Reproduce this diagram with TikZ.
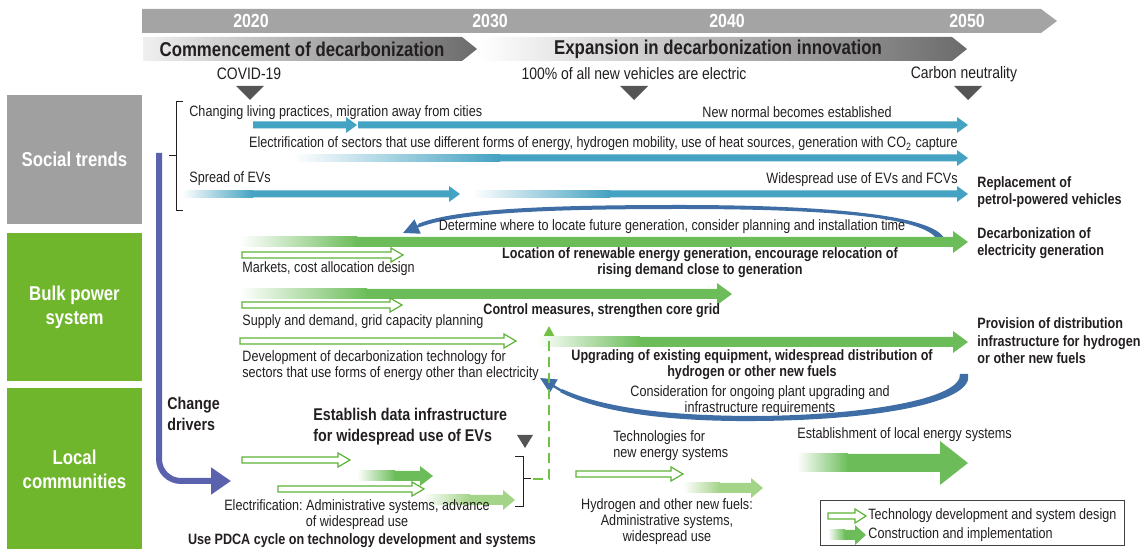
\documentclass[tikz,border=0pt]{standalone}
\usepackage{fontspec}
\setmainfont{Liberation Sans}[FakeStretch=0.84]
\usetikzlibrary{arrows.meta}
\frenchspacing

\definecolor{txt}{HTML}{231F20}
\definecolor{bargray}{HTML}{A4A4A4}
\definecolor{boxgray}{HTML}{A0A0A0}
\definecolor{boxgreen}{HTML}{70B62C}
\definecolor{trendblue}{HTML}{44A2C2}
\definecolor{loopblue}{HTML}{3E6EA5}
\definecolor{driverblue}{HTML}{5A62AE}
\definecolor{buildgreen}{HTML}{6CBD5A}
\definecolor{lightgreen}{HTML}{A3D488}
\definecolor{outlinegreen}{HTML}{5DB337}
\definecolor{dashgreen}{HTML}{72C045}
\definecolor{markgray}{HTML}{555555}
\definecolor{phasedark}{HTML}{6B6B6B}

\newcommand{\setfs}[2]{\fontsize{#1}{#2}\selectfont}

% gradient arrow: start x, end of fade, head base, tip, y, shaft half, head half, colour
\newcommand{\fadearrow}[8]{%
  \shade[left color=white, right color=#8] (#1,#5-#6) rectangle (#2,#5+#6);
  \fill[#8] (#2-0.5,#5-#6) -- (#3,#5-#6) -- (#3,#5-#7) -- (#4,#5)
    -- (#3,#5+#7) -- (#3,#5+#6) -- (#2-0.5,#5+#6) -- cycle;}
% solid arrow: start x, head base, tip, y, shaft half, head half, colour
\newcommand{\flatarrow}[7]{%
  \fill[#7] (#1,#4-#5) -- (#2,#4-#5) -- (#2,#4-#6) -- (#3,#4)
    -- (#2,#4+#6) -- (#2,#4+#5) -- (#1,#4+#5) -- cycle;}
% outlined arrow: start x, head base, tip, y, shaft half, head half
\newcommand{\designarrow}[6]{%
  \draw[designline] (#1,#4-#5) -- (#2,#4-#5) -- (#2,#4-#6) -- (#3,#4)
    -- (#2,#4+#6) -- (#2,#4+#5) -- (#1,#4+#5) -- cycle;}
% down-pointing marker: centre x, top y, bottom y, half width
\newcommand{\milestone}[4]{%
  \fill[markgray] (#1-#4,#2) -- (#1+#4,#2) -- (#1,#3) -- cycle;}

\begin{document}
\begin{tikzpicture}[x=0.5pt,y=-0.5pt,
  lbl/.style={font=\setfs{7.5}{8}, text=txt, inner sep=0pt},
  mlbl/.style={font=\setfs{8.3}{9}, text=txt, inner sep=0pt},
  blbl/.style={font=\setfs{7.5}{8}\bfseries, text=txt, inner sep=0pt},
  sidebold/.style={font=\setfs{7.5}{8.7}\bfseries, text=txt, inner sep=0pt, align=left, anchor=west},
  bigbold/.style={font=\setfs{8.5}{10.5}\bfseries, text=txt, inner sep=0pt, align=left, anchor=west},
  sectbox/.style={font=\setfs{10}{12}\bfseries, text=white, align=center,
    minimum width=67.5pt, inner sep=0pt},
  yearlbl/.style={font=\setfs{9.5}{10}\bfseries, text=white, inner sep=0pt},
  phaselbl/.style={font=\setfs{10}{11}\bfseries, text=txt, inner sep=0pt},
  designline/.style={draw=outlinegreen, line width=0.6pt, fill=white},
  loopline/.style={loopblue, line width=1.2pt, -{Triangle[length=8pt,width=7.5pt]}},
  bracketline/.style={draw=txt, line width=0.5pt},
]
\useasboundingbox (0,0) rectangle (1140,549);

% ---------- time line ----------
\fill[bargray] (142,9) -- (1041,9) -- (1057,21) -- (1041,33) -- (142,33) -- cycle;
\node[yearlbl] (y2020) at (251,21) {2020};
\node[yearlbl] (y2030) at (490,21) {2030};
\node[yearlbl] (y2040) at (727,21) {2040};
\node[yearlbl] (y2050) at (967,21) {2050};

\shade[left color=black!6, right color=phasedark]
  (143,37) -- (462,37) -- (477,49) -- (462,61) -- (143,61) -- cycle;
\shade[left color=white, right color=phasedark]
  (478,37) -- (952,37) -- (967,49) -- (952,61) -- (478,61) -- cycle;
\node[phaselbl] (phase1) at (302,49) {Commencement of decarbonization};
\node[phaselbl] (phase2) at (718,49) {Expansion in decarbonization innovation};

\node[mlbl] (covid) at (249,74) {COVID-19};
\node[mlbl] (allev) at (634,74) {100\% of all new vehicles are electric};
\node[mlbl] (neutral) at (964,74) {Carbon neutrality};
\milestone{250}{86}{100}{14}
\milestone{634}{86}{100}{14}
\milestone{968}{86}{100}{14}

% ---------- section boxes ----------
\node[sectbox, fill=boxgray, minimum height=64.5pt] (social) at (74.5,159.5) {Social trends};
\node[sectbox, fill=boxgreen, minimum height=74pt] (bulk) at (74.5,307) {Bulk power\\system};
\node[sectbox, fill=boxgreen, minimum height=81pt] (local) at (74.5,469) {Local\\communities};

% ---------- social trends ----------
\draw[bracketline] (183,102) -- (176,102) -- (176,211) -- (183,211);
\draw[bracketline] (169,156) -- (176,156);

\node[lbl, anchor=west] (changing) at (189,113) {Changing living practices, migration away from cities};
\node[lbl] (newnormal) at (797,112) {New normal becomes established};
\flatarrow{253}{346}{357}{125}{3.5}{8}{trendblue}
\flatarrow{358}{957}{968}{125}{3.5}{8}{trendblue}

\node[lbl, anchor=east] (electrif) at (958,144) {Electrification of sectors that use different forms of energy, hydrogen mobility, use of heat sources, generation with CO\textsubscript{2} capture};
\fadearrow{293}{500}{957}{968}{158}{3.5}{8}{trendblue}

\node[lbl, anchor=west] (spread) at (189,179) {Spread of EVs};
\node[lbl, anchor=east] (widespread) at (958,180) {Widespread use of EVs and FCVs};
\fadearrow{182}{253}{449}{460}{194}{3.5}{8}{trendblue}
\fadearrow{472}{610}{957}{968}{194}{3.5}{8}{trendblue}
\node[sidebold] (replace) at (977,192) {Replacement of\\petrol-powered vehicles};

% ---------- bulk power system ----------
\fill[loopblue] (944,238) .. controls (930,212) and (800,205) .. (680,205)
  .. controls (560,205) and (455,208) .. (418,224)
  -- (420,227) .. controls (460,212) and (560,209) .. (680,209)
  .. controls (800,209) and (918,214) .. (936,238) -- cycle;
\draw[loopline] (420,225.5) -- (403,233);
\node[lbl] (determine) at (672,227) {Determine where to locate future generation, consider planning and installation time};

\fadearrow{240}{357}{953}{968}{242}{5}{11}{buildgreen}
\designarrow{242}{391}{403}{255}{3}{7}
\node[lbl, anchor=west] (markets) at (242,269) {Markets, cost allocation design};
\node[blbl, align=center] (location) at (700,263) {Location of renewable energy generation, encourage relocation of\\rising demand close to generation};
\node[sidebold] (decarb) at (977,243) {Decarbonization of\\electricity generation};

\fadearrow{240}{367}{717}{732}{294}{5}{11}{buildgreen}
\designarrow{242}{390}{402}{305}{3}{7}
\node[lbl, anchor=west] (supply) at (242,322) {Supply and demand, grid capacity planning};
\node[blbl, anchor=west] (control) at (483,311) {Control measures, strengthen core grid};

\designarrow{240}{504}{516}{341}{3}{7}
\node[lbl, anchor=west, align=left] (develop) at (242,366) {Development of decarbonization technology for\\sectors that use forms of energy other than electricity};
\fadearrow{537}{640}{953}{968}{342}{5}{11}{buildgreen}
\node[blbl, align=center] (upgrade) at (752,365) {Upgrading of existing equipment, widespread distribution of\\hydrogen or other new fuels};
\node[sidebold] (provision) at (977,341) {Provision of distribution\\infrastructure for hydrogen\\or other new fuels};

\fill[loopblue] (968,374) .. controls (975,402) and (880,420) .. (757,421)
  .. controls (650,422) and (590,408) .. (560,392)
  -- (562,389) .. controls (595,404) and (650,416) .. (757,416)
  .. controls (870,415) and (962,398) .. (960,374) -- cycle;
\draw[loopline] (561,390.5) -- (540,378);
\node[lbl, align=center] (consider) at (760,401) {Consideration for ongoing plant upgrading and\\infrastructure requirements};

% ---------- local communities ----------
\draw[driverblue, line width=3pt, rounded corners=11pt,
  -{Triangle[length=10pt,width=13pt]}] (159,153) |- (231,481);
\node[bigbold] (drivers) at (167,414) {Change\\drivers};
\node[bigbold] (datainfra) at (313,427) {Establish data infrastructure\\for widespread use of EVs};
\milestone{525}{435}{448}{8}

\designarrow{242}{338}{350}{460}{3}{7}
\fadearrow{357}{395}{420}{433}{476}{5}{10}{buildgreen}
\designarrow{278}{412}{424}{489}{3}{7}
\fadearrow{423}{470}{503}{515}{500}{5}{10}{lightgreen}
\draw[bracketline] (515,457) -- (523,457) -- (523,507) -- (515,507);
\draw[bracketline] (523,479) -- (531,479);
\coordinate (dashstart) at (533,479);
\coordinate (dashend) at (549,326);
\draw[dashgreen, line width=1.2pt, dash pattern=on 5pt off 3pt,
  -{Triangle[length=5pt,width=5pt]}] (dashstart) -| (dashend);

\node[lbl, align=center] (elecadmin) at (357,515) {Electrification: Administrative systems, advance\\of widespread use};
\node[blbl] (pdca) at (362,541) {Use PDCA cycle on technology development and systems};

\node[lbl, anchor=west, align=left] (newtech) at (613,446) {Technologies for\\new energy systems};
\designarrow{576}{671}{683}{474}{3}{7}
\fadearrow{683}{720}{751}{763}{488}{5}{10}{lightgreen}
\node[lbl, align=center] (hydrogen) at (667,522) {Hydrogen and other new fuels:\\Administrative systems,\\widespread use};

\node[lbl, anchor=west] (localsys) at (797,435) {Establishment of local energy systems};
\fadearrow{797}{848}{940}{968}{463}{9}{22}{buildgreen}

% ---------- legend ----------
\draw[draw=txt!85, line width=0.5pt] (820,501) rectangle (1124,546);
\designarrow{828}{855}{866}{516}{3}{7}
\fadearrow{828}{845}{855}{866}{535}{5}{10}{buildgreen}
\node[lbl, anchor=west] (legdesign) at (868,516) {Technology development and system design};
\node[lbl, anchor=west] (legbuild) at (868,535) {Construction and implementation};
\end{tikzpicture}
\end{document}
